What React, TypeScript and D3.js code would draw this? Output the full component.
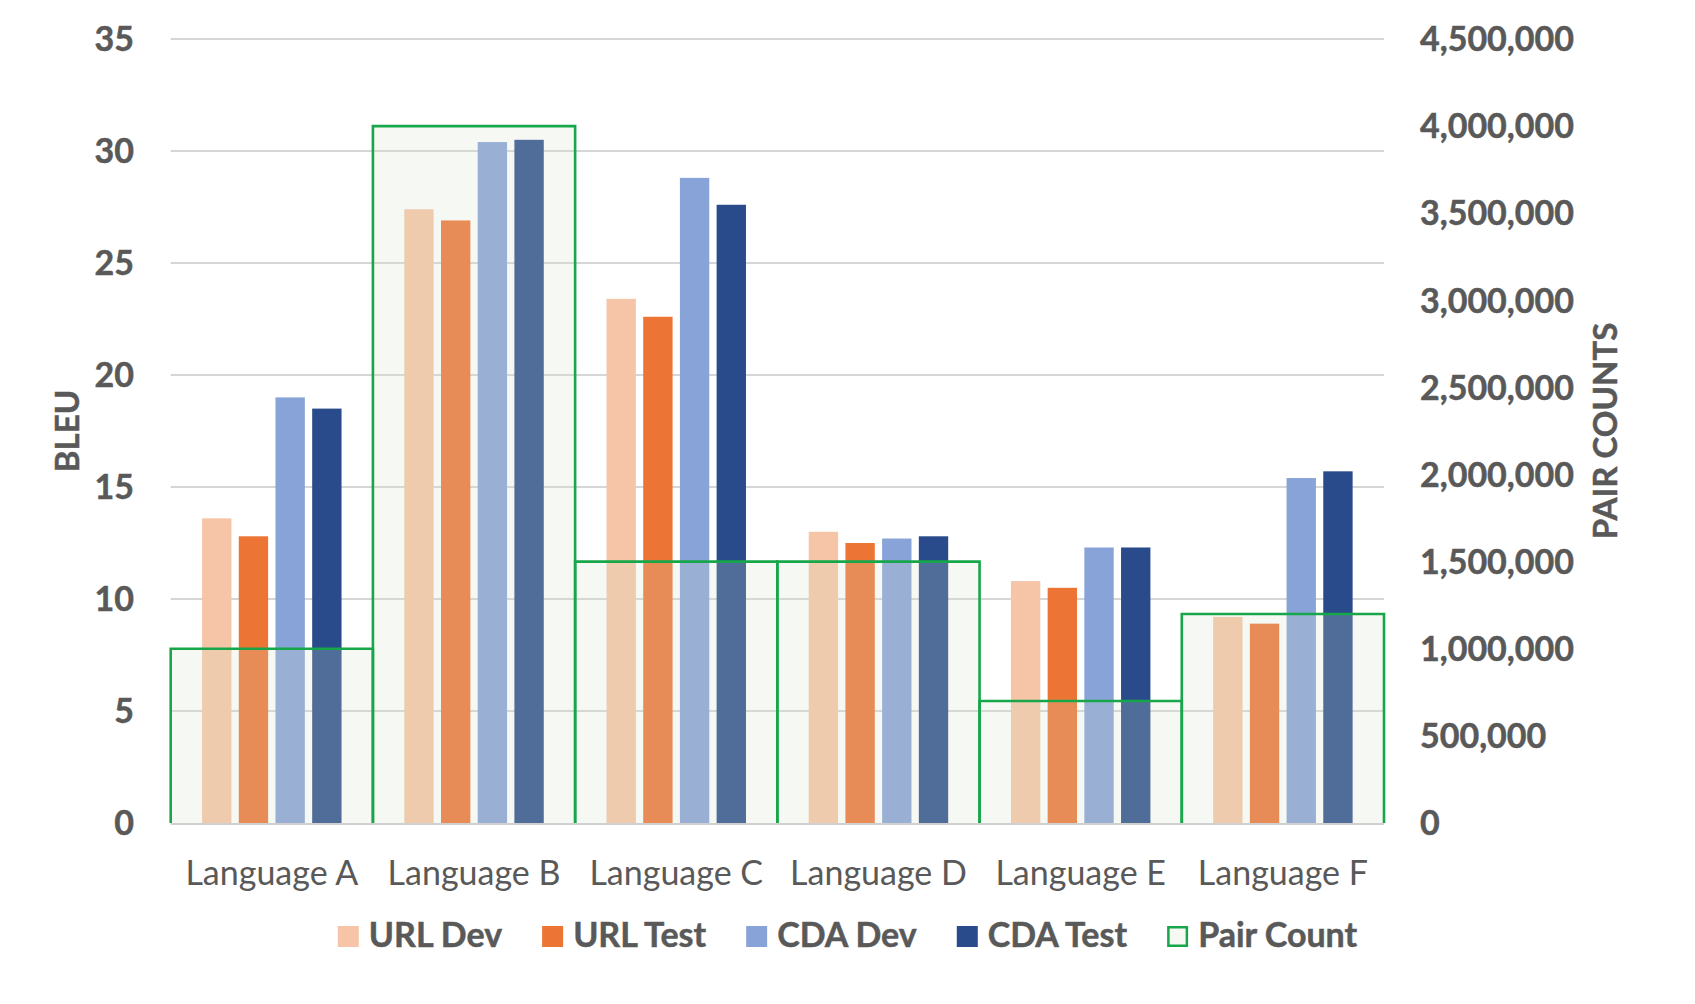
import React, { useEffect, useRef } from "react";
import * as d3 from "d3";

const categories = ["Language A", "Language B", "Language C", "Language D", "Language E", "Language F"];
const urlDev = [13.6, 27.4, 23.4, 13.0, 10.8, 9.2];
const urlTest = [12.8, 26.9, 22.6, 12.5, 10.5, 8.9];
const cdaDev = [19.0, 30.4, 28.8, 12.7, 12.3, 15.4];
const cdaTest = [18.5, 30.5, 27.6, 12.8, 12.3, 15.7];
const pairCount = [1000000, 4000000, 1500000, 1500000, 700000, 1200000];
const bleuTicks = [0, 5, 10, 15, 20, 25, 30, 35];
const pairTicks = [0, 500000, 1000000, 1500000, 2000000, 2500000, 3000000, 3500000, 4000000, 4500000];
const seriesNames = ["URL Dev", "URL Test", "CDA Dev", "CDA Test"];
const seriesValues = [urlDev, urlTest, cdaDev, cdaTest];
const seriesColors = ["#F6C5A7", "#EC7535", "#88A3D7", "#2A4B8B"];
const pairLabel = "Pair Count";

const W = 1695;
const H = 1004;
const FONT = "Lato, Carlito, Calibri, sans-serif";
const TEXT = "#595959";

export default function App() {
  const ref = useRef<SVGSVGElement | null>(null);

  useEffect(() => {
    document.body.style.margin = "0";
    const svg = d3.select(ref.current);
    svg.selectAll("*").remove();

    const left = 170.7, right = 1384, top = 39, bottom = 823;
    const x = d3.scaleBand<string>().domain(categories).range([left, right]).paddingInner(0).paddingOuter(0);
    const xi = d3.scaleBand<string>().domain(seriesNames).range([0, x.bandwidth()]).paddingInner(0.2).paddingOuter(0.855);
    const y = d3.scaleLinear().domain([0, 35]).range([bottom, top]);
    const yr = d3.scaleLinear().domain([0, 4500000]).range([bottom, top]);

    svg.append("rect").attr("width", W).attr("height", H).attr("fill", "#fff");

    // gridlines
    svg.append("g").selectAll("line").data(bleuTicks.filter(t => t > 0)).join("line")
      .attr("x1", left).attr("x2", right)
      .attr("y1", d => y(d)).attr("y2", d => y(d))
      .attr("stroke", "#D6D6D6").attr("stroke-width", 1.8);

    // bars
    const g = svg.append("g");
    seriesNames.forEach((s, si) => {
      g.append("g").selectAll("rect").data(seriesValues[si]).join("rect")
        .attr("x", (d, i) => (x(categories[i]) as number) + (xi(s) as number))
        .attr("width", xi.bandwidth())
        .attr("y", d => y(d))
        .attr("height", d => bottom - y(d))
        .attr("fill", seriesColors[si]);
    });

    // pair count boxes (semi-transparent)
    const pg = svg.append("g");
    pg.selectAll("rect").data(pairCount).join("rect")
      .attr("x", (d, i) => x(categories[i]) as number)
      .attr("width", x.bandwidth())
      .attr("y", d => yr(d))
      .attr("height", d => bottom - yr(d))
      .attr("fill", "#D7E0CA").attr("fill-opacity", 0.225);
    pg.selectAll("path").data(pairCount).join("path")
      .attr("d", (d, i) => {
        const x0 = x(categories[i]) as number;
        const x1 = x0 + x.bandwidth();
        return `M${x0},${bottom}V${yr(d)}H${x1}V${bottom}`;
      })
      .attr("fill", "none").attr("stroke", "#17A64A").attr("stroke-width", 2.6);

    // baseline
    svg.append("line").attr("x1", left).attr("x2", right).attr("y1", bottom + 1).attr("y2", bottom + 1)
      .attr("stroke", "#D0D0D0").attr("stroke-width", 2);

    const bold = (sel: any) => sel.attr("font-family", FONT).attr("font-weight", 700)
      .attr("fill", TEXT).attr("stroke", TEXT).attr("stroke-width", 0.5);

    // left ticks
    bold(svg.append("g").selectAll("text").data(bleuTicks).join("text")
      .attr("x", 134).attr("y", d => y(d)).attr("dy", "0.36em")
      .attr("text-anchor", "end").attr("font-size", 34)).text(d => String(d));

    // right ticks
    const fmt = d3.format(",");
    bold(svg.append("g").selectAll("text").data(pairTicks).join("text")
      .attr("x", 1420).attr("y", d => yr(d)).attr("dy", "0.36em")
      .attr("text-anchor", "start").attr("font-size", 34)).text(d => fmt(d));

    // category labels
    svg.append("g").selectAll("text").data(categories).join("text")
      .attr("x", d => (x(d) as number) + x.bandwidth() / 2).attr("y", 885)
      .attr("text-anchor", "middle").attr("font-family", FONT)
      .attr("font-size", 34).attr("fill", TEXT).text(d => d);

    // axis titles
    bold(svg.append("text").attr("transform", `translate(67,${(top + bottom) / 2}) rotate(-90)`)
      .attr("text-anchor", "middle").attr("dy", "0.36em").attr("font-size", 33)).text("BLEU");
    bold(svg.append("text").attr("transform", `translate(1605,${(top + bottom) / 2}) rotate(-90)`)
      .attr("text-anchor", "middle").attr("dy", "0.36em").attr("font-size", 33)).text("PAIR COUNTS");

    // legend
    const lg = svg.append("g");
    const items = [...seriesNames, pairLabel];
    const sw = 21, gapText = 10, gapItem = 40, base = 947;
    let cx = 0;
    items.forEach((name, i) => {
      const it = lg.append("g").attr("transform", `translate(${cx},0)`);
      if (i < seriesNames.length) {
        it.append("rect").attr("x", 0).attr("y", base - sw).attr("width", sw).attr("height", sw).attr("fill", seriesColors[i]);
      } else {
        it.append("rect").attr("x", 1.25).attr("y", base - sw + 1.25).attr("width", sw - 2.5).attr("height", sw - 2.5)
          .attr("fill", "#F6F8F3").attr("stroke", "#17A64A").attr("stroke-width", 2.5);
      }
      const t = bold(it.append("text").attr("x", sw + gapText).attr("y", base).attr("font-size", 34)).text(name);
      const tw = (t.node() as SVGTextElement).getComputedTextLength();
      cx += sw + gapText + tw + gapItem;
    });
    const total = cx - gapItem;
    lg.attr("transform", `translate(${W / 2 - total / 2},0)`);
  }, []);

  return <svg ref={ref} width={W} height={H} style={{ display: "block" }} />;
}
